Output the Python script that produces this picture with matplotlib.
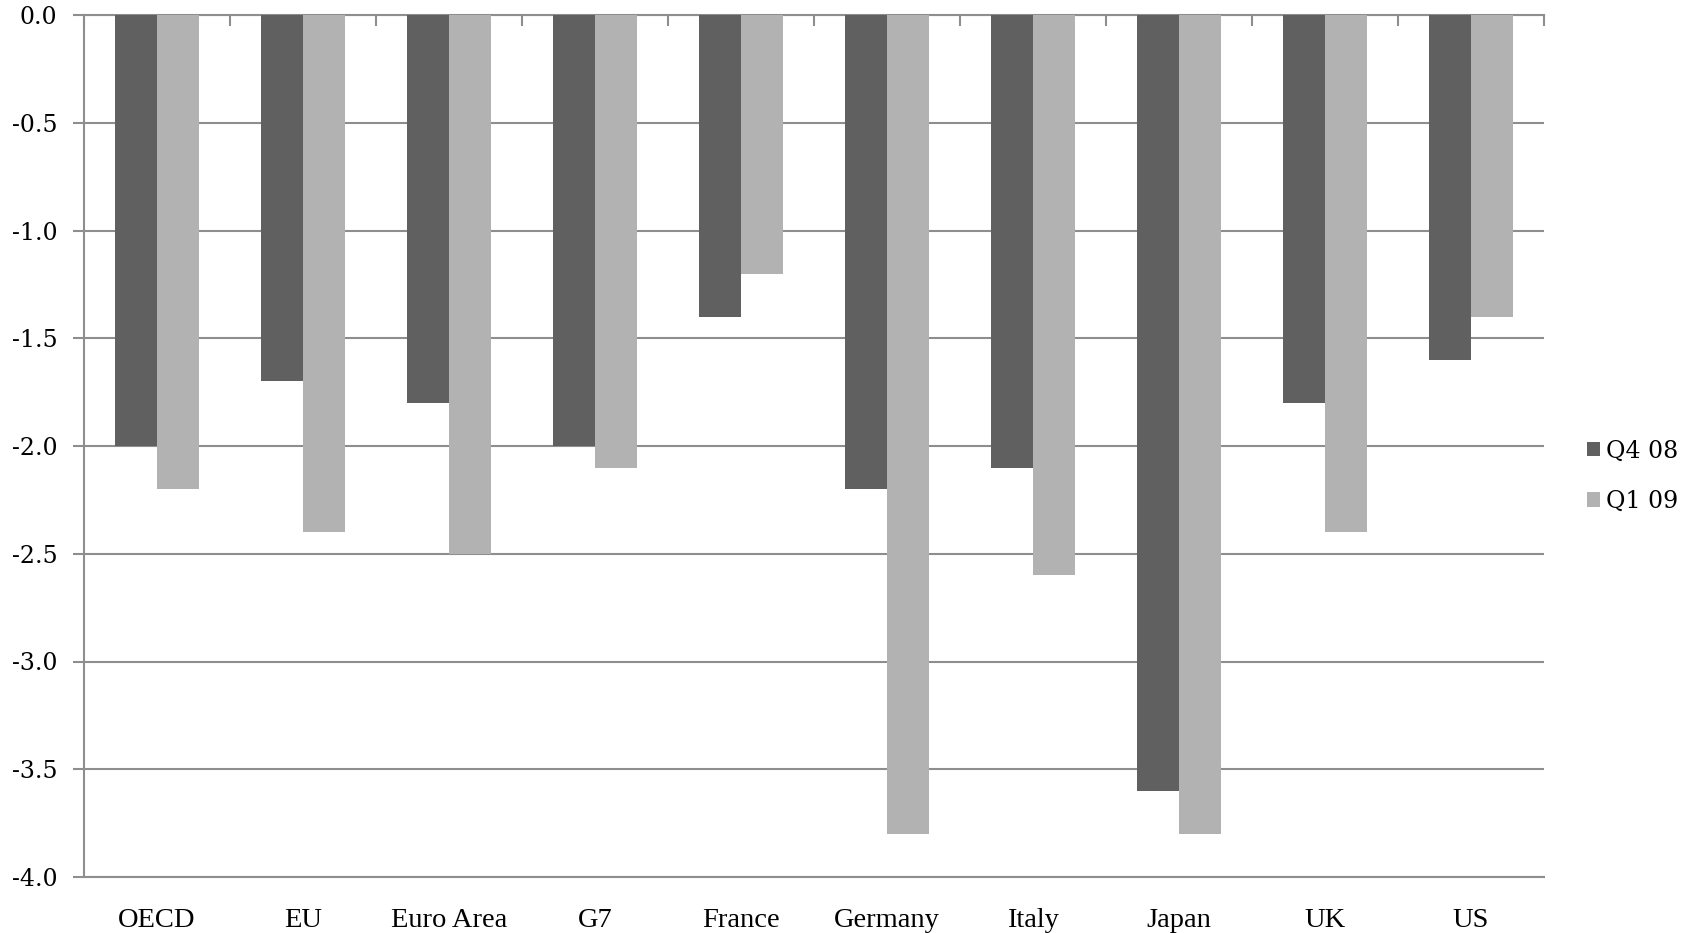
import matplotlib
matplotlib.use("Agg")
import matplotlib.pyplot as plt
import numpy as np

categories = ["OECD", "EU", "Euro Area", "G7", "France", "Germany", "Italy", "Japan", "UK", "US"]
q4_08 = [-2.0, -1.7, -1.8, -2.0, -1.4, -2.2, -2.1, -3.6, -1.8, -1.6]
q1_09 = [-2.2, -2.4, -2.5, -2.1, -1.2, -3.8, -2.6, -3.8, -2.4, -1.4]
series_names = ["Q4 08", "Q1 09"]
y_ticks = [0.0, -0.5, -1.0, -1.5, -2.0, -2.5, -3.0, -3.5, -4.0]

dark = "#606060"
light = "#b2b2b2"
grid_c = "#8e8e8e"
serif = ["Liberation Serif", "DejaVu Serif"]
wide_serif = ["DejaVu Serif"]

fig = plt.figure(figsize=(16.96, 9.33), dpi=100)
ax = fig.add_axes([84 / 1696, 1 - 877 / 933, (1544 - 84) / 1696, (877 - 15) / 933])

x = np.arange(len(categories))
w = 0.285
ax.bar(x - w / 2, q4_08, width=w, color=dark, label=series_names[0], zorder=3)
ax.bar(x + w / 2, q1_09, width=w, color=light, label=series_names[1], zorder=3)

ax.set_xlim(-0.5, len(categories) - 0.5)
ax.set_ylim(-4.0, 0.0)

ax.set_yticks(y_ticks)
ax.set_yticklabels([f"{v:.1f}" for v in y_ticks], fontfamily=wide_serif, fontsize=17)
ax.yaxis.grid(True, color=grid_c, linewidth=1.5, zorder=0)
ax.tick_params(axis="y", length=8, width=1.5, color=grid_c, pad=11)

ax.set_xticks(x)
ax.set_xticklabels(categories, fontfamily=serif, fontsize=20.5)
ax.tick_params(axis="x", which="major", length=0, pad=22)
# category separators hang down from the zero line
ax.set_xticks(np.arange(-0.5, len(categories)), minor=True)
ax.tick_params(axis="x", which="minor", bottom=False, top=True, direction="in",
               length=8, width=1.5, color=grid_c)

for s in ["top", "bottom", "left"]:
    ax.spines[s].set_color(grid_c)
    ax.spines[s].set_linewidth(1.5)
ax.spines["right"].set_visible(False)

leg = ax.legend(loc="center left", bbox_to_anchor=(1.015, 0.465), frameon=False,
                prop={"family": wide_serif, "size": 17}, handlelength=0.55, handleheight=0.55,
                handletextpad=0.25, labelspacing=1.15)

fig.savefig("out.png", dpi=100)
